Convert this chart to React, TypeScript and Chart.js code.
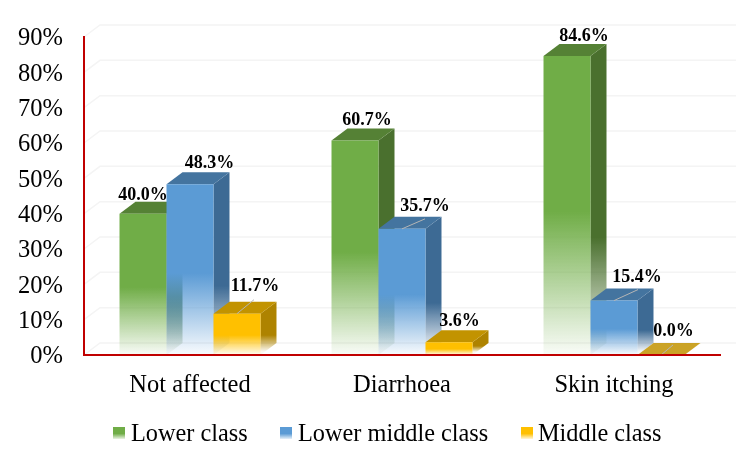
import React, { useEffect, useRef } from "react";
import { Chart, registerables } from "chart.js";

Chart.register(...registerables);

const categories = ["Not affected", "Diarrhoea", "Skin itching"];
const lowerClass = [40.0, 60.7, 84.6];
const lowerMiddleClass = [48.3, 35.7, 15.4];
const middleClass = [11.7, 3.6, 0.0];
const seriesNames = ["Lower class", "Lower middle class", "Middle class"];
const yMax = 90;
const yStep = 10;

const FONT = '"Liberation Serif", "Times New Roman", serif';
const DX = 16;
const DY = 12;

const palette = [
  { front: [112, 173, 71], top: "#558135", side: "#4a702e" },
  { front: [91, 155, 213], top: "#44749f", side: "#3d6a94" },
  { front: [255, 192, 0], top: "#c29300", side: "#ae8300" },
];

// Label placement relative to the top-centre of each bar's front face
const labelOffsets = [
  [[0, -14], [12, -16], [17, -15]],
  [[19.5, -16.5], [23, -18], [23, -19]],
  [[18, -23], [10.5, -16], [12.5, -19]],
];
const leaderOffsets: (number[] | null)[][] = [
  [null, null, null],
  [null, [23, -10], [24, -11]],
  [[17, -14], null, [12, -10]],
];
const legendLayout = [
  { swatch: 113, text: 131 },
  { swatch: 280, text: 298 },
  { swatch: 521, text: 538 },
];

function hexToRgb(h: string) {
  return [1, 3, 5].map((i) => parseInt(h.slice(i, i + 2), 16));
}

function fadeGradient(
  ctx: CanvasRenderingContext2D,
  top: number,
  bottom: number,
  rgb: number[] | string,
  solidUntil = 0.52
) {
  const c = typeof rgb === "string" ? hexToRgb(rgb) : rgb;
  const s = c.join(",");
  if (!Number.isFinite(top) || !Number.isFinite(bottom)) return `rgb(${s})`;
  const g = ctx.createLinearGradient(0, top, 0, bottom);
  g.addColorStop(0, `rgba(${s},1)`);
  g.addColorStop(solidUntil, `rgba(${s},1)`);
  g.addColorStop(0.98, `rgba(${s},0.08)`);
  g.addColorStop(1, `rgba(${s},0.05)`);
  return g;
}

const threeD = {
  id: "threeD",
  beforeDatasetsDraw(chart: any) {
    const { ctx, chartArea, scales } = chart;
    const y = scales.y;
    // Back wall and side wall gridlines
    ctx.save();
    ctx.strokeStyle = "#f4f4f4";
    ctx.lineWidth = 1.5;
    y.ticks.forEach((t: any) => {
      const py = y.getPixelForValue(t.value);
      ctx.beginPath();
      ctx.moveTo(chartArea.left, py);
      ctx.lineTo(chartArea.left + DX, py - DY);
      ctx.lineTo(chartArea.right + DX, py - DY);
      ctx.stroke();
    });
    ctx.restore();

    // Bars from back to front: side, top, then the library's own front rectangle
    categories.forEach((_, ci) => {
      chart.data.datasets.forEach((_d: any, di: number) => {
        const el = chart.getDatasetMeta(di).data[ci];
        const { x, y: top, base, width } = el.getProps(["x", "y", "base", "width"], true);
        const l = x - width / 2;
        const r = x + width / 2;
        ctx.save();
        if (base - top > 0.5) {
          ctx.fillStyle = fadeGradient(ctx, top - DY / 2, base - DY / 4, palette[di].side, 0.62);
          ctx.beginPath();
          ctx.moveTo(r, top);
          ctx.lineTo(r + DX, top - DY);
          ctx.lineTo(r + DX, base - DY);
          ctx.lineTo(r, base);
          ctx.closePath();
          ctx.fill();
        } else {
          ctx.globalAlpha = 0.85;
        }
        ctx.fillStyle = palette[di].top;
        ctx.beginPath();
        ctx.moveTo(l, top);
        ctx.lineTo(l + DX, top - DY);
        ctx.lineTo(r + DX, top - DY);
        ctx.lineTo(r, top);
        ctx.closePath();
        ctx.fill();
        ctx.restore();
        el.draw(ctx, chartArea);
      });
    });
  },
  beforeDatasetDraw() {
    return false;
  },
  afterDatasetsDraw(chart: any) {
    const { ctx } = chart;
    ctx.save();
    chart.data.datasets.forEach((d: any, di: number) => {
      chart.getDatasetMeta(di).data.forEach((el: any, ci: number) => {
        const { x, y: top } = el.getProps(["x", "y"], true);
        const leader = leaderOffsets[di][ci];
        if (leader) {
          ctx.strokeStyle = "#b5b5b5";
          ctx.lineWidth = 1;
          ctx.beginPath();
          ctx.moveTo(x, top);
          ctx.lineTo(x + leader[0], top + leader[1]);
          ctx.stroke();
        }
        const off = labelOffsets[di][ci];
        ctx.fillStyle = "#000";
        ctx.font = `bold 18px ${FONT}`;
        ctx.textAlign = "center";
        ctx.textBaseline = "alphabetic";
        ctx.fillText(`${d.data[ci].toFixed(1)}%`, x + off[0], top + off[1]);
      });
    });
    // Legend
    chart.data.datasets.forEach((d: any, di: number) => {
      const pos = legendLayout[di];
      const sTop = 427;
      const sBottom = 439;
      const g = ctx.createLinearGradient(0, sTop, 0, sBottom);
      const s = palette[di].front.join(",");
      g.addColorStop(0, `rgba(${s},1)`);
      g.addColorStop(0.55, `rgba(${s},1)`);
      g.addColorStop(1, `rgba(${s},0.15)`);
      ctx.fillStyle = g;
      ctx.fillRect(pos.swatch, sTop, 12, sBottom - sTop);
      ctx.fillStyle = "#000";
      ctx.font = `24.3px ${FONT}`;
      ctx.textAlign = "left";
      ctx.textBaseline = "alphabetic";
      ctx.fillText(d.label, pos.text, 441);
    });
    ctx.restore();
  },
};

export default function App() {
  const ref = useRef<HTMLCanvasElement>(null);
  useEffect(() => {
    const series = [lowerClass, lowerMiddleClass, middleClass];
    const chart = new Chart(ref.current as HTMLCanvasElement, {
      type: "bar",
      data: {
        labels: categories,
        datasets: series.map((data, i) => ({
          label: seriesNames[i],
          data,
          borderWidth: 0,
          backgroundColor: (c: any) => {
            const y = c.chart.scales.y;
            const v = c.dataset.data[c.dataIndex];
            if (c.type !== "data" || !y || typeof v !== "number") return `rgb(${palette[i].front.join(",")})`;
            return fadeGradient(c.chart.ctx, y.getPixelForValue(v), y.getPixelForValue(0), palette[i].front);
          },
        })),
      },
      options: {
        animation: false,
        responsive: false,
        layout: { padding: { top: 37, right: 30, left: 0, bottom: 0 } },
        datasets: { bar: { categoryPercentage: 0.665, barPercentage: 1 } },
        plugins: { legend: { display: false }, tooltip: { enabled: false } },
        scales: {
          x: {
            afterFit: (s: any) => { s.height = 107; },
            grid: { display: false, drawTicks: false },
            border: { color: "#c00000", width: 2, z: 1 },
            ticks: { color: "#000", font: { family: FONT, size: 24.5 }, padding: 16, maxRotation: 0 },
          },
          y: {
            min: 0,
            max: yMax,
            afterFit: (s: any) => { s.width = 84; },
            grid: { display: false, drawTicks: false },
            border: { color: "#c00000", width: 2, z: 1 },
            ticks: {
              stepSize: yStep,
              color: "#000",
              font: { family: FONT, size: 24.5 },
              padding: 21,
              labelOffset: 2,
              callback: (v: any) => `${v}%`,
            },
          },
        },
      },
      plugins: [threeD],
    } as any);
    return () => chart.destroy();
  }, []);
  return (
    <div style={{ position: "absolute", left: 0, top: 0, width: 750, height: 462, background: "#fff" }}>
      <canvas ref={ref} width={750} height={462} style={{ display: "block" }} />
    </div>
  );
}
